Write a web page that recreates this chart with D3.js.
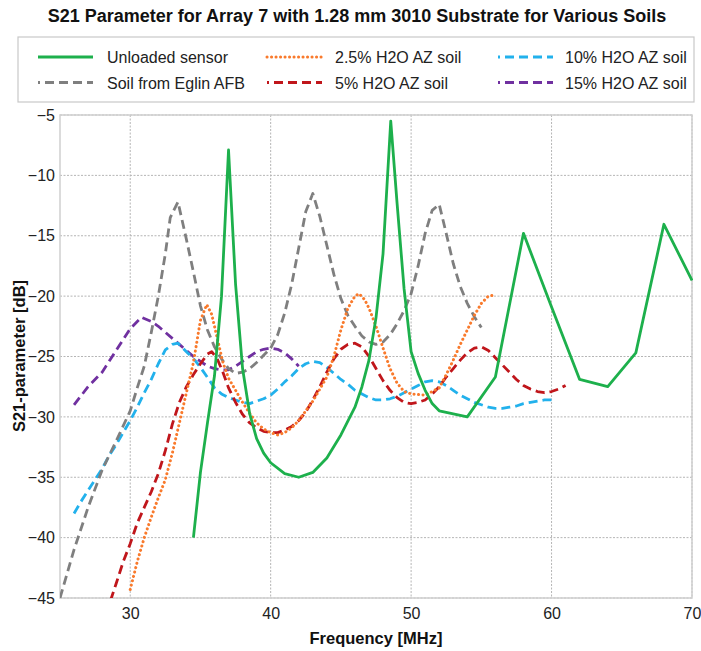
<!DOCTYPE html>
<html>
<head>
<meta charset="utf-8">
<script src="https://cdn.jsdelivr.net/npm/d3@7/dist/d3.min.js"></script>
<style>
  html, body { margin: 0; padding: 0; background: #fff; }
  svg { display: block; font-family: "Liberation Sans", Arial, sans-serif; }
</style>
</head>
<body>
<svg id="chart" width="701" height="651"></svg>
<script>
// ---- Data (frequency MHz, S21 dB) ----
const unloaded = [
  [34.5,-40],[35.0,-34.6],[35.5,-30.5],[36.0,-26.6],[36.5,-20],[37.0,-7.9],[37.5,-19],[38.0,-26],
  [38.5,-29.7],[39.0,-31.8],[39.5,-33.0],[40.0,-33.8],[41.0,-34.7],[42.0,-35.0],[43.0,-34.6],
  [44.0,-33.4],[45.0,-31.5],[46.0,-29.2],[46.5,-27.5],[47.0,-25.3],[47.5,-21.8],[48.0,-16.5],
  [48.55,-5.5],[49.0,-12.3],[49.5,-19.4],[50.0,-24.6],[50.5,-26.4],[51.0,-27.8],[51.5,-28.9],
  [52.0,-29.5],[54.0,-30.0],[56.0,-26.7],[58.0,-14.8],[60.0,-20.9],[62.0,-26.9],[64.0,-27.5],
  [66.0,-24.7],[68.0,-14.05],[70.0,-18.7]
];
const eglin = [
  [25,-45],[26,-41],[27,-37.5],[28,-34.4],[29,-32],[30,-29.5],[30.5,-27.6],[31,-25.8],[31.5,-23],
  [32,-20],[32.5,-16.5],[32.85,-13.5],[33.4,-12.2],[34,-15.3],[34.5,-18],[35,-20.8],[35.5,-22.8],
  [36,-24.2],[36.5,-25.2],[37,-26],[37.5,-26.4],[38,-26.3],[38.5,-26.0],[39,-25.5],[39.5,-24.9],
  [40,-24.3],[40.5,-23.2],[41,-21.4],[41.5,-19],[42,-16],[42.5,-13],[43,-11.5],[43.5,-13.4],
  [44,-15.8],[44.5,-18.2],[45,-20.2],[45.5,-21.6],[46,-22.5],[46.5,-23.3],[47,-23.8],[47.5,-24.0],
  [48,-23.8],[48.5,-23.2],[49,-22.3],[49.5,-21.2],[50,-19.8],[50.5,-17.5],[51,-14.8],[51.5,-12.9],
  [52,-12.4],[52.5,-14.8],[53,-17.3],[53.5,-19.2],[54,-20.6],[54.5,-21.7],[55,-22.6]
];
const soil25 = [
  [30,-44.3],[30.5,-42],[31,-40],[31.5,-38.3],[32,-36.7],[32.5,-35.2],[33,-33],[33.5,-30.5],
  [34,-28],[34.5,-25.5],[35,-22],[35.45,-20.7],[35.8,-21.5],[36.2,-23.5],[36.6,-25.5],[37,-26.8],
  [37.5,-27.8],[38,-28.8],[38.5,-29.7],[39,-30.5],[39.5,-31],[40,-31.3],[40.5,-31.5],[41,-31.3],
  [41.5,-30.9],[42,-30.3],[42.5,-29.5],[43,-28.7],[43.5,-27.7],[44,-26.7],[44.5,-25],[45,-22.8],
  [45.5,-21],[46,-20],[46.3,-19.8],[46.7,-20.3],[47,-21],[47.5,-22.5],[48,-24.3],[48.5,-26],
  [49,-27.2],[49.5,-27.9],[50,-28.1],[51,-28.2],[52,-27.6],[52.5,-26.5],[53,-25.3],[53.5,-24],
  [54,-22.8],[54.5,-21.6],[55,-20.6],[55.5,-20.0],[56,-19.9]
];
const soil5 = [
  [28.6,-45.2],[29,-43.8],[29.5,-42],[30,-40.5],[30.5,-38.8],[31,-37.5],[31.5,-36.2],[32,-34.7],
  [32.5,-32.8],[33,-30.6],[33.5,-28.8],[34,-27.5],[34.5,-26.5],[35,-25.6],[35.5,-24.8],[35.8,-24.6],
  [36.2,-25.2],[36.6,-26.3],[37,-27.6],[37.5,-28.8],[38,-29.8],[38.5,-30.5],[39,-30.9],[39.5,-31.2],
  [40,-31.3],[40.5,-31.3],[41,-31.1],[41.5,-30.8],[42,-30.3],[42.5,-29.6],[43,-28.6],[43.5,-27.5],
  [44,-26.3],[44.5,-25.2],[45,-24.4],[45.5,-24.0],[46,-23.9],[46.5,-24.2],[47,-25.0],[47.5,-26.0],
  [48,-27.0],[48.5,-27.8],[49,-28.4],[49.5,-28.8],[50,-28.9],[50.5,-28.8],[51,-28.6],[51.5,-28.1],
  [52,-27.5],[52.5,-26.7],[53,-26.0],[53.5,-25.3],[54,-24.7],[54.5,-24.3],[55,-24.2],[55.5,-24.5],
  [56,-25.1],[56.5,-25.7],[57,-26.3],[57.5,-26.9],[58,-27.4],[58.5,-27.7],[59,-27.9],[59.5,-28.0],
  [60,-27.9],[60.5,-27.7],[61,-27.4]
];
const soil10 = [
  [26,-38],[26.5,-37],[27,-36.1],[27.5,-35.2],[28,-34.3],[28.5,-33.2],[29,-32.3],[29.5,-31.3],
  [30,-30.3],[30.5,-29.2],[31,-28],[31.5,-26.9],[32,-25.6],[32.5,-24.45],[33,-24],[33.4,-23.9],
  [34,-24.6],[34.6,-25.3],[35,-25.9],[35.6,-26.9],[36,-27.6],[36.5,-28.1],[37,-28.4],[37.5,-28.6],
  [38,-28.8],[38.5,-28.9],[39,-28.7],[39.5,-28.5],[40,-28.2],[40.5,-27.7],[41,-27.1],[41.5,-26.6],
  [42,-26],[42.5,-25.6],[43,-25.4],[43.5,-25.5],[44,-25.9],[44.5,-26.4],[45,-26.9],[45.5,-27.3],
  [46,-27.8],[46.5,-28.1],[47,-28.4],[47.5,-28.6],[48,-28.6],[48.5,-28.5],[49,-28.3],[49.5,-28.0],
  [50,-27.7],[50.5,-27.4],[51,-27.1],[51.5,-27.0],[52,-27.1],[52.5,-27.4],[53,-27.8],[53.5,-28.2],
  [54,-28.5],[54.5,-28.8],[55,-29.0],[55.5,-29.2],[56,-29.3],[56.5,-29.3],[57,-29.2],[57.5,-29.1],
  [58,-28.9],[58.5,-28.8],[59,-28.7],[59.5,-28.6],[60,-28.6]
];
const soil15 = [
  [26,-29],[27,-27.5],[28,-26.3],[29,-24.5],[30,-22.7],[30.8,-21.75],[31.5,-22.1],[32,-22.5],
  [32.5,-23],[33,-23.5],[33.5,-24],[34,-24.5],[34.5,-25],[35,-25.4],[35.5,-25.8],[36,-26],
  [36.5,-26.1],[37,-26.1],[37.5,-25.8],[38,-25.4],[38.5,-25],[39,-24.6],[39.5,-24.4],[40,-24.3],
  [40.5,-24.4],[41,-24.7],[41.5,-25.2],[42,-25.8]
];

const seriesNames = ["Unloaded sensor","2.5% H2O AZ soil","10% H2O AZ soil","Soil from Eglin AFB","5% H2O AZ soil","15% H2O AZ soil"];
const xTicks = [30,40,50,60,70];
const yTicks = [-5,-10,-15,-20,-25,-30,-35,-40,-45];

// ---- Styles ----
const styles = {
  "Unloaded sensor":    {data: unloaded, color:"#1db04c", dash:null, width:2.8},
  "2.5% H2O AZ soil":   {data: soil25,  color:"#f97a2c", dash:"0.1,4.4", width:3, cap:"round"},
  "10% H2O AZ soil":    {data: soil10,  color:"#22b1ec", dash:"9,5", width:2.8},
  "Soil from Eglin AFB":{data: eglin,   color:"#7f7f7f", dash:"9,5", width:2.8},
  "5% H2O AZ soil":     {data: soil5,   color:"#c0161b", dash:"9,5", width:2.8},
  "15% H2O AZ soil":    {data: soil15,  color:"#7030a0", dash:"9,5", width:2.8}
};
const drawOrder = ["15% H2O AZ soil","10% H2O AZ soil","Soil from Eglin AFB","5% H2O AZ soil","2.5% H2O AZ soil","Unloaded sensor"];

const svg = d3.select("#chart");
const m = {left:60, right:692, top:115, bottom:598};

const x = d3.scaleLinear().domain([25,70]).range([m.left, m.right]);
const y = d3.scaleLinear().domain([-45,-5]).range([m.bottom, m.top]);

// Title
svg.append("text").attr("x", 357).attr("y", 22).attr("text-anchor","middle")
  .style("font-weight","bold").style("font-size","18px").attr("fill","#111")
  .text("S21 Parameter for Array 7 with 1.28 mm 3010 Substrate for Various Soils");

// Gridlines
const grid = svg.append("g");
grid.selectAll("line.gy").data(yTicks).join("line")
  .attr("x1", m.left).attr("x2", m.right).attr("y1", d=>y(d)).attr("y2", d=>y(d))
  .attr("stroke","#b5b5b5").attr("stroke-width",1).attr("stroke-dasharray","2,1.5");
grid.selectAll("line.gx").data(xTicks).join("line")
  .attr("y1", m.top).attr("y2", m.bottom).attr("x1", d=>x(d)).attr("x2", d=>x(d))
  .attr("stroke","#b5b5b5").attr("stroke-width",1).attr("stroke-dasharray","2,1.5");

// Frame
svg.append("rect").attr("x", m.left).attr("y", m.top).attr("width", m.right-m.left).attr("height", m.bottom-m.top)
  .attr("fill","none").attr("stroke","#cfcfcf").attr("stroke-width",1.5);

// Axes
const xAxis = svg.append("g").attr("transform", `translate(0,${m.bottom})`)
  .call(d3.axisBottom(x).tickValues(xTicks).tickSize(0).tickPadding(10));
const yAxis = svg.append("g").attr("transform", `translate(${m.left},0)`)
  .call(d3.axisLeft(y).tickValues(yTicks).tickSize(0).tickPadding(5));
[xAxis, yAxis].forEach(a => {
  a.select(".domain").remove();
  a.selectAll("text").style("font-size","16px").attr("fill","#222").style("font-family","'Liberation Sans', Arial, sans-serif");
});

// Axis labels
svg.append("text").attr("x", 376).attr("y", 644).attr("text-anchor","middle")
  .style("font-weight","bold").style("font-size","16.5px").attr("fill","#111").text("Frequency [MHz]");
svg.append("text").attr("transform", `translate(25,356) rotate(-90)`).attr("text-anchor","middle")
  .style("font-weight","bold").style("font-size","16.5px").attr("fill","#111").text("S21-parameter [dB]");

// Lines
const line = d3.line().x(d=>x(d[0])).y(d=>y(d[1])).curve(d3.curveLinear);
const defs = svg.append("defs");
defs.append("clipPath").attr("id","clip").append("rect")
  .attr("x", m.left).attr("y", m.top-10).attr("width", m.right-m.left+1).attr("height", m.bottom-m.top+10);
const lines = svg.append("g").attr("clip-path","url(#clip)");
drawOrder.forEach(name => {
  const s = styles[name];
  lines.append("path").datum(s.data).attr("d", line)
    .attr("fill","none").attr("stroke", s.color).attr("stroke-width", s.width)
    .attr("stroke-dasharray", s.dash).attr("stroke-linecap", s.cap || "butt")
    .attr("stroke-linejoin","round");
});

// Legend
const lg = svg.append("g");
lg.append("rect").attr("x",18).attr("y",37).attr("width",676).attr("height",65)
  .attr("fill","#fff").attr("stroke","#c8c8c8").attr("stroke-width",1.2);
const legendPos = [
  {lx:38, len:55, tx:107}, {lx:267, len:55, tx:335}, {lx:498, len:55, tx:565}
];
seriesNames.forEach((name, i) => {
  const col = i % 3, row = Math.floor(i/3);
  const p = legendPos[col];
  const yy = row === 0 ? 57 : 82.5;
  const s = styles[name];
  lg.append("line").attr("x1", p.lx).attr("x2", p.lx + p.len).attr("y1", yy).attr("y2", yy)
    .attr("stroke", s.color).attr("stroke-width", s.width).attr("stroke-dasharray", s.dash)
    .attr("stroke-dashoffset", s.dash && !s.cap ? 7 : 0)
    .attr("stroke-linecap", s.cap || "butt");
  lg.append("text").attr("x", p.tx).attr("y", yy+6).style("font-size","16px").attr("fill","#222").text(name);
});
</script>
</body>
</html>
